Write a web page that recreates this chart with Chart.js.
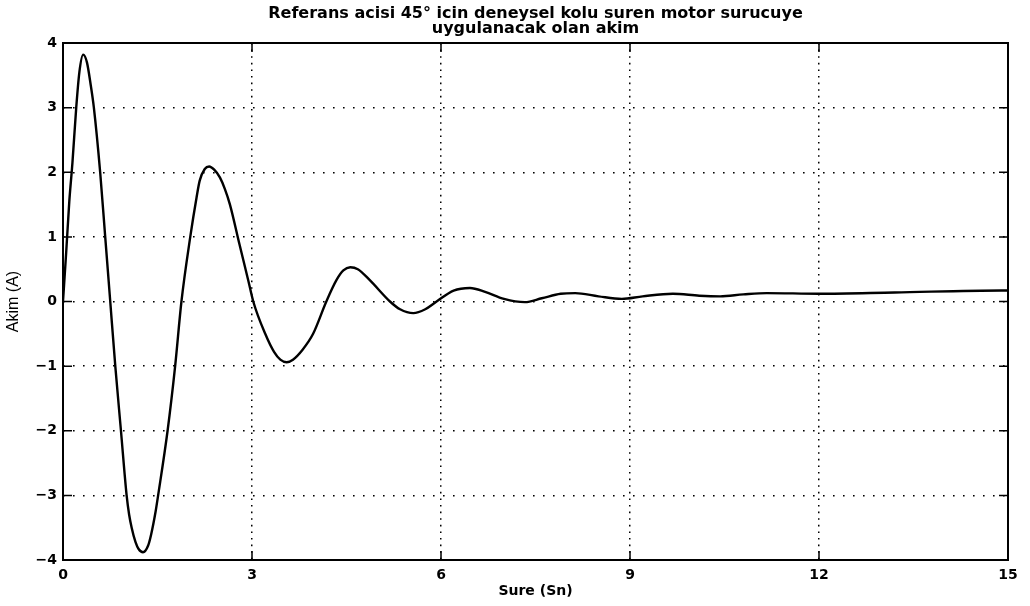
<!DOCTYPE html>
<html>
<head>
<meta charset="utf-8">
<title>Akim</title>
<script src="https://cdn.jsdelivr.net/npm/chart.js@4.4.1/dist/chart.umd.min.js"></script>
<style>
  html, body { margin: 0; padding: 0; background: #fff; }
  #wrap { width: 1030px; height: 606px; }
</style>
</head>
<body>
<div id="wrap"><canvas id="akim-chart" width="1030" height="606"></canvas></div>
<script>
// measured current response (time in s, current in A)
const sure = [
  0, 0.05, 0.1, 0.15, 0.21, 0.26, 0.32, 0.38, 0.44, 0.49,
  0.59, 0.67, 0.75, 0.83, 0.92, 1.01, 1.05, 1.09, 1.15, 1.2,
  1.27, 1.35, 1.4, 1.47, 1.51, 1.66, 1.78, 1.88, 2.02, 2.12,
  2.17, 2.25, 2.32, 2.4, 2.49, 2.57, 2.65, 2.8, 2.94, 3.02,
  3.21, 3.35, 3.45, 3.55, 3.65, 3.8, 3.97, 4.18, 4.34, 4.45,
  4.56, 4.68, 4.87, 5.19, 5.35, 5.56, 5.75, 5.93, 6.2, 6.46,
  6.7, 7.0, 7.33, 7.6, 7.9, 8.13, 8.5, 8.87, 9.2, 9.68,
  10.1, 10.43, 10.8, 11.17, 12, 13.2, 14.9, 15
];
const akim = [
  0, 0.75, 1.55, 2.15, 3.0, 3.55, 3.82, 3.7, 3.35, 3.0,
  2.0, 1.0, 0.0, -1.0, -2.0, -3.0, -3.3, -3.5, -3.72, -3.83,
  -3.88, -3.78, -3.6, -3.25, -3.0, -2.0, -1.0, 0.0, 1.0, 1.61,
  1.87, 2.05, 2.09, 2.04, 1.92, 1.74, 1.5, 0.89, 0.33, 0.0,
  -0.5, -0.78, -0.9, -0.94, -0.9, -0.75, -0.5, 0.0, 0.33, 0.48,
  0.53, 0.5, 0.33, 0.0, -0.12, -0.18, -0.12, 0.0, 0.17, 0.21,
  0.15, 0.04, -0.01, 0.05, 0.12, 0.13, 0.08, 0.04, 0.08, 0.12,
  0.09, 0.08, 0.11, 0.13, 0.12, 0.14, 0.17, 0.17
];

const xTicks = [0, 3, 6, 9, 12, 15];
const xTickLabels = ['0', '3', '6', '9', '12', '15'];
const yTicks = [-4, -3, -2, -1, 0, 1, 2, 3, 4];
const yTickLabels = ['\u22124', '\u22123', '\u22122', '\u22121', '0', '1', '2', '3', '4'];

const points = sure.map((t, i) => ({ x: t, y: akim[i] }));

const boldFont = { family: '"DejaVu Sans", sans-serif', size: 14, weight: 'bold' };

// box around the plot plus short inward ticks on all four sides
const frameAndTicks = {
  id: 'frameAndTicks',
  afterDatasetsDraw(chart) {
    const { ctx, chartArea: a, scales } = chart;
    const len = 9;
    ctx.save();
    ctx.strokeStyle = '#000';
    ctx.lineWidth = 1.5;
    ctx.beginPath();
    xTicks.forEach(v => {
      const px = scales.x.getPixelForValue(v);
      ctx.moveTo(px, a.bottom); ctx.lineTo(px, a.bottom - len);
      ctx.moveTo(px, a.top); ctx.lineTo(px, a.top + len);
    });
    yTicks.forEach(v => {
      const py = scales.y.getPixelForValue(v);
      ctx.moveTo(a.left, py); ctx.lineTo(a.left + len, py);
      ctx.moveTo(a.right, py); ctx.lineTo(a.right - len, py);
    });
    ctx.stroke();
    ctx.lineWidth = 2;
    ctx.strokeRect(a.left, a.top, a.right - a.left, a.bottom - a.top);
    ctx.restore();
  }
};

new Chart(document.getElementById('akim-chart'), {
  type: 'line',
  data: {
    datasets: [{
      data: points,
      borderColor: '#000',
      borderWidth: 2.4,
      pointRadius: 0,
      fill: false,
      cubicInterpolationMode: 'monotone'
    }]
  },
  options: {
    responsive: false,
    animation: false,
    devicePixelRatio: 1,
    layout: { padding: { left: 0, right: 22, top: 0, bottom: 0 } },
    plugins: {
      legend: { display: false },
      tooltip: { enabled: false },
      title: {
        display: true,
        fullSize: false,
        text: ['Referans acisi 45\u00B0 icin deneysel kolu suren motor surucuye', 'uygulanacak olan akim'],
        color: '#000',
        font: { family: '"DejaVu Sans", sans-serif', size: 16, weight: 'bold', lineHeight: 0.95 },
        padding: { top: 6, bottom: 6.6 }
      }
    },
    scales: {
      x: {
        type: 'linear',
        min: 0,
        max: 15,
        afterFit(scale) { scale.height = 46; },
        afterBuildTicks(scale) { scale.ticks = xTicks.map(v => ({ value: v })); },
        ticks: {
          color: '#000',
          font: boldFont,
          padding: 7,
          maxRotation: 0,
          callback: v => xTickLabels[xTicks.indexOf(v)]
        },
        grid: { color: '#000', lineWidth: 1.5, drawTicks: false },
        border: { display: false, dash: [1.6, 5] },
        title: {
          display: true,
          text: 'Sure (Sn)',
          color: '#000',
          font: boldFont,
          padding: { top: 0, bottom: 6 }
        }
      },
      y: {
        type: 'linear',
        min: -4,
        max: 4,
        afterFit(scale) { scale.width = 63; },
        afterBuildTicks(scale) { scale.ticks = yTicks.map(v => ({ value: v })); },
        ticks: {
          color: '#000',
          font: boldFont,
          padding: 6,
          callback: v => yTickLabels[yTicks.indexOf(v)]
        },
        grid: { color: '#000', lineWidth: 1.5, drawTicks: false },
        border: { display: false, dash: [1.6, 8.4] },
        title: {
          display: true,
          text: 'Akim (A)',
          color: '#000',
          font: { family: '"Liberation Sans", Arial, sans-serif', size: 16 },
          padding: { top: 4, bottom: 0 }
        }
      }
    }
  },
  plugins: [frameAndTicks]
});
</script>
</body>
</html>
